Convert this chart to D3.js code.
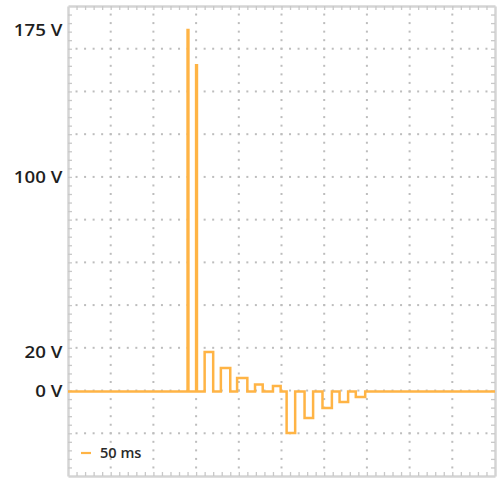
<!DOCTYPE html>
<html>
<head>
<meta charset="utf-8">
<script src="https://cdn.jsdelivr.net/npm/d3@7"></script>
<style>
  html, body { margin: 0; padding: 0; background: #fff; }
  svg { display: block; }
</style>
</head>
<body>
<div id="chart"></div>
<script>
"use strict"

// trace (step after each point)
const timesMs = [0, 140, 141, 150, 151, 160, 170, 179, 190, 198, 210, 219, 228, 240, 249, 256, 266, 277, 287, 298, 309, 318, 328, 337, 348, 500];
const volts   = [0, 175, 0,   157, 0,   20,  0,   11.9, 0,  6.8, 0,   3.5, 0,   2.8, 0,   -21, 0,   -13.4, 0, -8.4, 0,  -5.3, 0,   -2.8, 0,  0];

// labelled voltages on the left
const voltTicks = [0, 20, 100, 175];
const legendLabel = "50 ms";

const width = 500;
const height = 481;
const plot = { left: 68, right: 495, top: 6, bottom: 476 };
const traceColor = "#ffb445";

const svg = d3.select("#chart").append("svg")
    .attr("width", width)
    .attr("height", height);

//----------------------------SCALES----------------------------//
// time in ms, 50 ms per division, 10 divisions
const x = d3.scaleLinear().domain([0, 500]).range([plot.left, plot.right]);
// screen divisions vertically (11 of them)
const yDiv = d3.scaleLinear().domain([0, 11]).range([plot.top, plot.bottom]);
// voltage scale; the labels on the picture are not evenly spaced, so piecewise
const y = d3.scaleLinear().domain([0, 20, 100, 175]).range([391.5, 352, 177, 30]);

//-----------------------------GRID-----------------------------//
const minorX = d3.range(10, 500, 10);
const minorY = d3.range(1, 55).map(i => i / 5);
const majorX = d3.range(50, 500, 50);
const majorY = d3.range(1, 11);

const grid = svg.append("g").attr("class", "grid").attr("fill", "#bdbdbd");

// dotted vertical lines
majorX.forEach(t => {
    grid.selectAll(null)
        .data(minorY)
        .join("rect")
        .attr("x", x(t) - 1)
        .attr("y", d => yDiv(d) - 1)
        .attr("width", 2)
        .attr("height", 2);
});
// dotted horizontal lines
majorY.forEach(k => {
    grid.selectAll(null)
        .data(minorX)
        .join("rect")
        .attr("x", d => x(d) - 1)
        .attr("y", yDiv(k) - 1)
        .attr("width", 2)
        .attr("height", 2);
});

//------------------------BORDER + TICKS------------------------//
const styleBorder = g => {
    g.select(".domain").attr("stroke", "#d4d4d4").attr("stroke-width", 2.5);
    g.selectAll(".tick line").attr("stroke", "#c8c8c8").attr("stroke-width", 1.3);
    g.selectAll(".tick text").remove();
};

svg.append("g")
    .attr("transform", `translate(0,${plot.top})`)
    .call(d3.axisBottom(x).tickValues(minorX).tickSize(4).tickSizeOuter(0).tickFormat(""))
    .call(styleBorder);
svg.append("g")
    .attr("transform", `translate(0,${plot.bottom})`)
    .call(d3.axisTop(x).tickValues(minorX).tickSize(4).tickSizeOuter(0).tickFormat(""))
    .call(styleBorder);
svg.append("g")
    .attr("transform", `translate(${plot.left},0)`)
    .call(d3.axisRight(yDiv).tickValues(minorY).tickSize(4).tickSizeOuter(0).tickFormat(""))
    .call(styleBorder);
svg.append("g")
    .attr("transform", `translate(${plot.right},0)`)
    .call(d3.axisLeft(yDiv).tickValues(minorY).tickSize(4).tickSizeOuter(0).tickFormat(""))
    .call(styleBorder);

//-----------------------------TRACE----------------------------//
const line = d3.line()
    .x(i => x(timesMs[i]))
    .y(i => y(volts[i]))
    .curve(d3.curveStepAfter);

svg.append("path")
    .attr("d", line(d3.range(timesMs.length)))
    .attr("fill", "none")
    .attr("stroke", traceColor)
    .attr("stroke-width", 2.5)
    .attr("stroke-linejoin", "miter");

//---------------------------LABELS-----------------------------//
const labels = svg.append("g")
    .attr("font-family", "'Open Sans', sans-serif")
    .attr("font-weight", 600)
    .attr("font-size", 16)
    .attr("fill", "#1e1e1e");

labels.selectAll("g")
    .data(voltTicks)
    .join("g")
    .attr("transform", d => `translate(62.5,${y(d)}) scale(1.17,1)`)
    .append("text")
    .attr("text-anchor", "end")
    .attr("dy", "0.36em")
    .text(d => `${d} V`);

//---------------------------LEGEND-----------------------------//
const legend = svg.append("g").attr("transform", "translate(81,453)");
legend.append("line")
    .attr("x1", 0).attr("x2", 10)
    .attr("stroke", traceColor)
    .attr("stroke-width", 2.2);
legend.append("g")
    .attr("transform", "translate(19,0) scale(1.08,1)")
    .append("text")
    .attr("dy", "0.36em")
    .attr("font-family", "'Open Sans', sans-serif")
    .attr("font-weight", 600)
    .attr("font-size", 13.5)
    .attr("fill", "#2a2a2a")
    .text(legendLabel);
</script>
</body>
</html>
